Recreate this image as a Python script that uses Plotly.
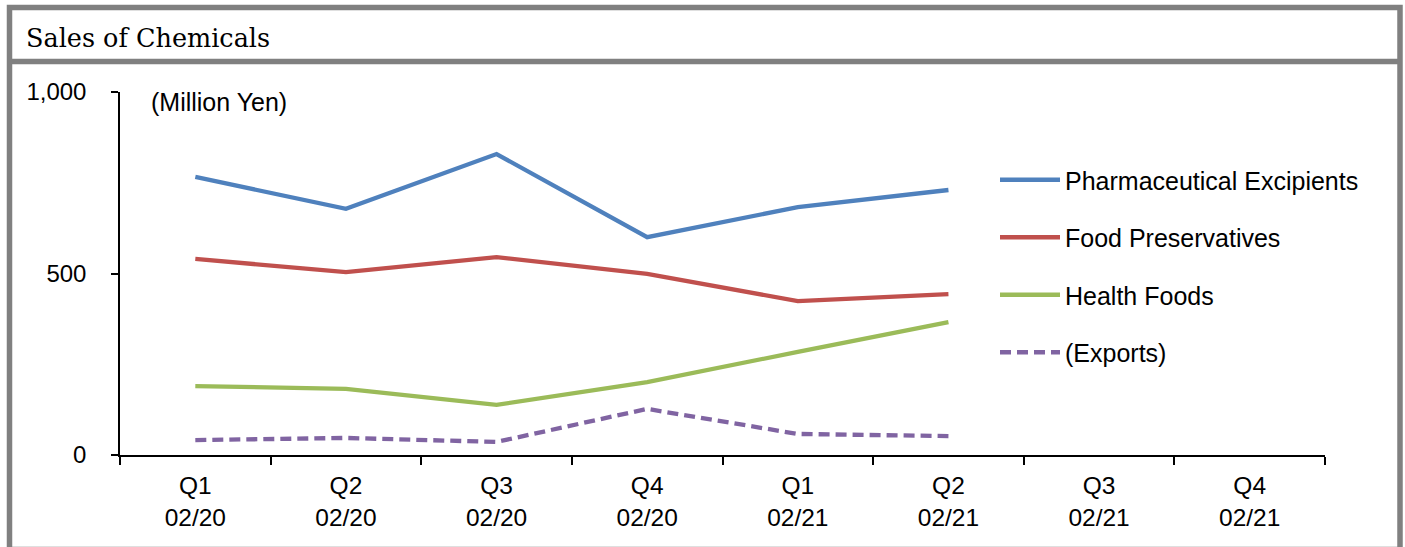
import plotly.graph_objects as go

# Quarterly sales of the chemicals segment (million yen)
quarters = ["Q1<br>02/20", "Q2<br>02/20", "Q3<br>02/20", "Q4<br>02/20",
            "Q1<br>02/21", "Q2<br>02/21", "Q3<br>02/21", "Q4<br>02/21"]
pharma_excipients = [766, 678, 829, 600, 683, 730, None, None]
food_preservatives = [540, 504, 545, 499, 424, 443, None, None]
health_foods = [190, 182, 138, 201, 284, 366, None, None]
exports = [41, 47, 36, 127, 58, 52, None, None]

series_names = ["Pharmaceutical Excipients", "Food Preservatives", "Health Foods", "(Exports)"]
series_values = [pharma_excipients, food_preservatives, health_foods, exports]
series_colors = ["#4F81BD", "#C0504D", "#9BBB59", "#8064A2"]
series_dash = ["solid", "solid", "solid", "11px,6px"]

W, H = 1405, 547
L, R, T, B = 120, 80, 92, 92
PW, PH = W - L - R, H - T - B

def px_x(x):
    return (x - L) / PW

def px_y(y):
    return (H - B - y) / PH

fig = go.Figure()
for i, (name, vals, col, dash) in enumerate(zip(series_names, series_values, series_colors, series_dash)):
    fig.add_trace(go.Scatter(
        x=quarters, y=vals, name=name, mode="lines",
        line=dict(color=col, width=4.3, dash=dash),
        legendgroup=f"g{i}",
    ))

font = "Liberation Sans, Arial, sans-serif"
grey = "#808080"

shapes = [
    # outer frame
    dict(type="rect", xref="paper", yref="paper",
         x0=px_x(9.5), x1=px_x(1400), y0=px_y(7.5), y1=px_y(549.5),
         line=dict(color=grey, width=5.5), layer="below"),
    # title separator
    dict(type="line", xref="paper", yref="paper",
         x0=px_x(9.5), x1=px_x(1400), y0=px_y(61.5), y1=px_y(61.5),
         line=dict(color=grey, width=5.5), layer="below"),
]

annotations = [
    dict(text="Sales of Chemicals", xref="paper", yref="paper",
         x=px_x(24), y=px_y(38), xanchor="left", yanchor="middle",
         showarrow=False, font=dict(family="DejaVu Serif, serif", size=25.5, color="black")),
    dict(text="(Million Yen)", xref="paper", yref="paper",
         x=px_x(149), y=px_y(102), xanchor="left", yanchor="middle",
         showarrow=False, font=dict(family=font, size=25, color="black")),
]

fig.update_layout(
    width=W, height=H,
    margin=dict(l=L, r=R, t=T, b=B),
    paper_bgcolor="white", plot_bgcolor="white",
    showlegend=True,
    legend=dict(x=px_x(995), y=px_y(157), xanchor="left", yanchor="top",
                font=dict(family=font, size=25, color="black"),
                itemwidth=60, tracegroupgap=22, bgcolor="rgba(0,0,0,0)"),
    shapes=shapes, annotations=annotations,
    xaxis=dict(type="category", categoryorder="array", categoryarray=quarters,
               range=[-0.5, 7.5], tickson="boundaries", ticks="outside", ticklen=8,
               tickcolor="black", tickwidth=1.5, showline=True, linecolor="black", linewidth=1.5,
               showgrid=False, ticklabelstandoff=8,
               tickfont=dict(family=font, size=24.5, color="black")),
    yaxis=dict(range=[0, 1000], tickvals=[0, 500, 1000], tickformat=",",
               ticks="outside", ticklen=7, tickcolor="black", tickwidth=1.5,
               showline=True, linecolor="black", linewidth=1.5, showgrid=False, zeroline=False,
               ticklabelstandoff=20, tickfont=dict(family=font, size=24, color="black")),
)

fig.write_html("out.html")
